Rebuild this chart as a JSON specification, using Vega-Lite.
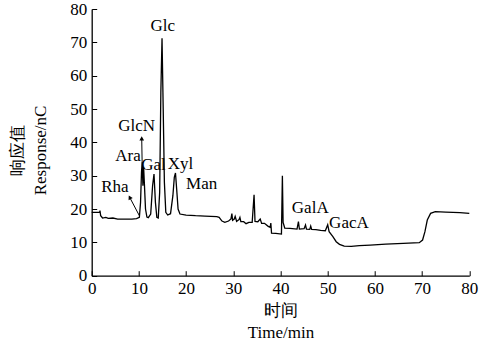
{
  "$schema": "https://vega.github.io/schema/vega-lite/v6.json",
  "width": 377.6,
  "height": 266.7,
  "autosize": {"type": "none"},
  "padding": {"left": 91.7, "top": 9, "right": 11.7, "bottom": 71.3},
  "background": "white",
  "config": {
    "view": {"stroke": null},
    "font": "Liberation Serif",
    "axis": {
      "domainColor": "black",
      "domainWidth": 1.3,
      "tickColor": "black",
      "tickWidth": 1,
      "tickSize": -5,
      "labelColor": "black",
      "labelFontSize": 17,
      "labelFont": "Liberation Serif",
      "labelPadding": 10,
      "titleColor": "black",
      "titleFontSize": 17,
      "titleFontWeight": "normal",
      "titleFont": "Liberation Serif",
      "grid": false,
      "labelFlush": false,
      "labelOverlap": false
    }
  },
  "datasets": {
    "trace": [
      {"t": 0, "v": 19.0}, {"t": 1.7, "v": 19.0}, {"t": 1.75, "v": 19.5}, {"t": 1.9, "v": 18.0},
      {"t": 2.3, "v": 17.3}, {"t": 3.0, "v": 17.5}, {"t": 3.5, "v": 17.2}, {"t": 4.5, "v": 17.3},
      {"t": 5.5, "v": 17.0}, {"t": 7.0, "v": 17.0}, {"t": 8.5, "v": 17.0}, {"t": 9.5, "v": 17.1},
      {"t": 10.1, "v": 17.5}, {"t": 10.35, "v": 22}, {"t": 10.55, "v": 31}, {"t": 10.7, "v": 34.2},
      {"t": 10.85, "v": 27}, {"t": 11.0, "v": 32.5}, {"t": 11.15, "v": 28}, {"t": 11.4, "v": 20},
      {"t": 11.7, "v": 17.6}, {"t": 12.0, "v": 17.4}, {"t": 12.5, "v": 18.5}, {"t": 12.9, "v": 27},
      {"t": 13.2, "v": 30.5}, {"t": 13.5, "v": 22}, {"t": 13.8, "v": 17.5}, {"t": 14.1, "v": 17.3},
      {"t": 14.4, "v": 25}, {"t": 14.65, "v": 55}, {"t": 14.9, "v": 71.2}, {"t": 15.15, "v": 50},
      {"t": 15.4, "v": 28}, {"t": 15.7, "v": 19}, {"t": 16.1, "v": 18.2}, {"t": 16.7, "v": 18.6},
      {"t": 17.2, "v": 24}, {"t": 17.5, "v": 29.5}, {"t": 17.75, "v": 30.8}, {"t": 18.0, "v": 26},
      {"t": 18.3, "v": 20}, {"t": 18.7, "v": 18.5}, {"t": 20, "v": 18.2}, {"t": 22, "v": 18.0},
      {"t": 24, "v": 17.9}, {"t": 26.5, "v": 17.7}, {"t": 27.0, "v": 17.5}, {"t": 27.6, "v": 16.4},
      {"t": 28.2, "v": 16.0}, {"t": 29.0, "v": 16.4}, {"t": 29.5, "v": 17.0}, {"t": 29.7, "v": 18.6},
      {"t": 29.85, "v": 16.6}, {"t": 30.2, "v": 17.0}, {"t": 30.4, "v": 17.8}, {"t": 30.7, "v": 16.3},
      {"t": 31.2, "v": 16.8}, {"t": 31.4, "v": 17.5}, {"t": 31.6, "v": 16.2}, {"t": 32.2, "v": 16.2},
      {"t": 32.7, "v": 15.6}, {"t": 33.3, "v": 16.0}, {"t": 34.0, "v": 16.0}, {"t": 34.4, "v": 24.3},
      {"t": 34.6, "v": 16.3}, {"t": 35.2, "v": 16.2}, {"t": 35.7, "v": 17.0}, {"t": 36.0, "v": 15.7},
      {"t": 36.6, "v": 15.7}, {"t": 37.4, "v": 14.8}, {"t": 37.8, "v": 14.5}, {"t": 37.95, "v": 15.8},
      {"t": 38.1, "v": 12.8}, {"t": 39.0, "v": 12.7}, {"t": 40.2, "v": 12.5}, {"t": 40.4, "v": 30.0},
      {"t": 40.55, "v": 16.0}, {"t": 40.9, "v": 14.3}, {"t": 42.0, "v": 14.2}, {"t": 43.5, "v": 14.0},
      {"t": 43.8, "v": 16.2}, {"t": 44.0, "v": 14.0}, {"t": 45.0, "v": 14.1}, {"t": 45.3, "v": 15.2},
      {"t": 45.5, "v": 14.0}, {"t": 46.2, "v": 13.9}, {"t": 46.4, "v": 14.9}, {"t": 46.6, "v": 13.9},
      {"t": 47.5, "v": 13.8}, {"t": 48.5, "v": 13.6}, {"t": 49.5, "v": 13.5}, {"t": 50.0, "v": 15.3},
      {"t": 50.3, "v": 13.2}, {"t": 51.1, "v": 11.7}, {"t": 51.8, "v": 10.2}, {"t": 52.5, "v": 9.4},
      {"t": 53.5, "v": 8.9}, {"t": 55.0, "v": 8.8}, {"t": 56.7, "v": 9.0}, {"t": 59.0, "v": 9.2},
      {"t": 62.3, "v": 9.5}, {"t": 66.0, "v": 9.7}, {"t": 69.4, "v": 9.9}, {"t": 70.1, "v": 10.7},
      {"t": 70.6, "v": 13.2}, {"t": 71.1, "v": 16.7}, {"t": 71.8, "v": 18.7}, {"t": 72.8, "v": 19.2},
      {"t": 75.0, "v": 19.1}, {"t": 78.0, "v": 18.9}, {"t": 80.0, "v": 18.7}
    ],
    "labels": [
      {"name": "Glc", "t": 15.07, "v": 75.0},
      {"name": "GlcN", "t": 9.5, "v": 44.8},
      {"name": "Ara", "t": 7.7, "v": 35.9},
      {"name": "Gal", "t": 13.1, "v": 33.1},
      {"name": "Xyl", "t": 18.8, "v": 33.6},
      {"name": "Man", "t": 23.3, "v": 27.5},
      {"name": "Rha", "t": 4.9, "v": 26.5},
      {"name": "GalA", "t": 46.3, "v": 20.2},
      {"name": "GacA", "t": 54.5, "v": 15.7}
    ],
    "arrows": [
      {"name": "GlcN", "x1": 10.68, "y1": 34.2, "x2": 10.6, "y2": 41.2},
      {"name": "Rha", "x1": 10.1, "y1": 18.0, "x2": 8.05, "y2": 23.5}
    ]
  },
  "layer": [
    {
      "data": {"name": "trace"},
      "mark": {"type": "line", "color": "black", "strokeWidth": 1.3},
      "encoding": {
        "x": {
          "field": "t", "type": "quantitative",
          "scale": {"domain": [0, 80], "nice": false},
          "axis": {
            "values": [0, 10, 20, 30, 40, 50, 60, 70, 80],
            "tickCount": 9,
            "labelOverlap": false,
            "labelFont": "Liberation Serif",
            "title": ["时间", "Time/min"],
            "titleX": 188.8,
            "titleY": 34.5,
            "titleAlign": "center",
            "titleBaseline": "middle",
            "titleLineHeight": 22
          }
        },
        "y": {
          "field": "v", "type": "quantitative",
          "scale": {"domain": [0, 80], "nice": false},
          "axis": {
            "values": [0, 10, 20, 30, 40, 50, 60, 70, 80],
            "tickCount": 9,
            "labelOverlap": false,
            "labelSeparation": 0,
            "labelFont": "Liberation Serif",
            "title": ["响应值", "Response/nC"],
            "titleX": -74.5,
            "titleY": 141,
            "titleAlign": "center",
            "titleBaseline": "middle",
            "titleLineHeight": 23
          }
        }
      }
    },
    {
      "data": {"name": "arrows"},
      "mark": {"type": "rule", "color": "black", "strokeWidth": 1},
      "encoding": {
        "x": {"field": "x1", "type": "quantitative"},
        "y": {"field": "y1", "type": "quantitative"},
        "x2": {"field": "x2"},
        "y2": {"field": "y2"}
      }
    },
    {
      "data": {"name": "arrows"},
      "transform": [{"filter": "datum.name === 'GlcN'"}],
      "mark": {"type": "point", "shape": "triangle-up", "filled": true, "color": "black", "opacity": 1, "size": 22, "angle": 0},
      "encoding": {
        "x": {"field": "x2", "type": "quantitative"},
        "y": {"field": "y2", "type": "quantitative"}
      }
    },
    {
      "data": {"name": "arrows"},
      "transform": [{"filter": "datum.name === 'Rha'"}],
      "mark": {"type": "point", "shape": "triangle-up", "filled": true, "color": "black", "opacity": 1, "size": 22, "angle": 332},
      "encoding": {
        "x": {"field": "x2", "type": "quantitative"},
        "y": {"field": "y2", "type": "quantitative"}
      }
    },
    {
      "data": {"name": "labels"},
      "mark": {"type": "text", "fontSize": 17, "color": "black", "align": "center", "baseline": "middle", "font": "Liberation Serif"},
      "encoding": {
        "x": {"field": "t", "type": "quantitative"},
        "y": {"field": "v", "type": "quantitative"},
        "text": {"field": "name"}
      }
    }
  ]
}
